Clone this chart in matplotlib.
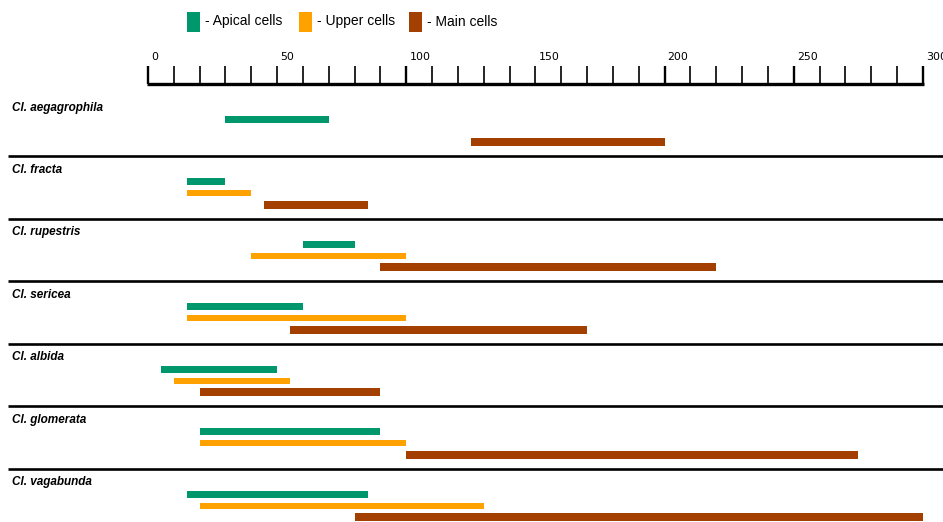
import matplotlib
matplotlib.use("Agg")
import matplotlib.pyplot as plt
from matplotlib.patches import Rectangle
from matplotlib.transforms import offset_copy

# Cell length ranges (µm) for each species
species = ["Cl. aegagrophila", "Cl. fracta", "Cl. rupestris", "Cl. sericea",
           "Cl. albida", "Cl. glomerata", "Cl. vagabunda"]
apical_cells = [(30, 70), (15, 30), (60, 80), (15, 60), (5, 50), (20, 90), (15, 85)]
upper_cells = [None, (15, 40), (40, 100), (15, 100), (10, 55), (20, 100), (20, 130)]
main_cells = [(125, 200), (45, 85), (90, 220), (55, 170), (20, 90), (100, 275), (80, 300)]

series_names = ["- Apical cells", "- Upper cells", "- Main cells"]
series_colors = ["#00976C", "#FFA200", "#A34000"]
scale_labels = [0, 50, 100, 150, 200, 250, 300]
scale_minor_step = 10

W, H = 943, 522
fig = plt.figure(figsize=(W / 100, H / 100), dpi=100)
ax = fig.add_axes([0, 0, 1, 1])
ax.axis("off")

# x in data units, y in pixel rows (top = 0)
x0_px, px_per_unit = 148, 2.583
ax.set_xlim(-x0_px / px_per_unit, (W - x0_px) / px_per_unit)
ax.set_ylim(H, 0)

# --- scale bar on top ---
axis_y, tick_top = 83.5, 66
ax.plot([-0.4, 300.6], [axis_y, axis_y], color="black", lw=2.4,
        solid_capstyle="butt")
for v in range(0, 301, scale_minor_step):
    major = v in (0, 100, 200, 250, 300)
    ax.plot([v, v], [tick_top, axis_y], color="black",
            lw=1.7 if major else 1.2, solid_capstyle="butt")
lab_tr = offset_copy(ax.transData, fig=fig, x=3, y=0, units="dots")
for v in scale_labels:
    ax.text(v, 60, str(v), transform=lab_tr, ha="left", va="baseline",
            fontsize=7.9, family="DejaVu Sans", color="black")

# --- species sections ---
first_top, row_h = 93.5, 62.5
bar_offsets = [25.5, 37.0, 48.5]
bar_heights = [7, 6, 8]
all_series = [apical_cells, upper_cells, main_cells]

for i, name in enumerate(species):
    top = first_top + i * row_h
    if i > 0:
        ax.plot([-140 / px_per_unit, W], [top, top], color="black", lw=1.9,
                solid_capstyle="butt")
    ax.text(-136 / px_per_unit, top + 14, name, ha="left", va="center",
            fontsize=8.5, fontweight="bold", fontstyle="italic",
            family="Liberation Sans", color="black")
    for s, data in enumerate(all_series):
        rng = data[i]
        if rng is None:
            continue
        start, end = rng
        ax.barh(top + bar_offsets[s], end - start, left=start,
                height=bar_heights[s], color=series_colors[s], linewidth=0)

# --- legend ---
legend_x = [187, 299, 409]
for name, color, lx in zip(series_names, series_colors, legend_x):
    xd = (lx - x0_px) / px_per_unit
    ax.add_patch(Rectangle((xd, 12), 13 / px_per_unit, 19.5, color=color,
                           linewidth=0))
    ax.text(xd + 18 / px_per_unit, 21.5, name, ha="left", va="center",
            fontsize=10, family="Liberation Sans", color="black")

fig.savefig("out.png", dpi=100)
